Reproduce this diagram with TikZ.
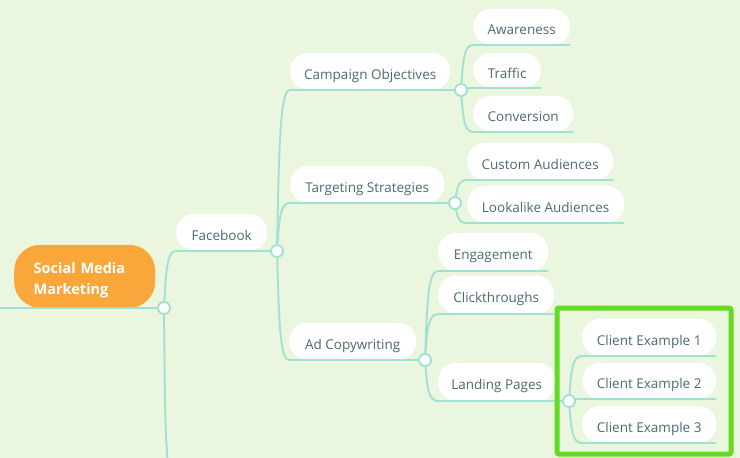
\documentclass[tikz,border=0pt]{standalone}
\usepackage{fontspec}
\setmainfont{Open Sans}
\usetikzlibrary{calc}
\definecolor{bg}{HTML}{EBF6DF}
\definecolor{ln}{HTML}{A3E0D4}
\definecolor{txt}{HTML}{4B6A73}
\definecolor{orng}{HTML}{F9A73B}
\definecolor{hl}{HTML}{62DB22}
\begin{document}
\begin{tikzpicture}[x=1pt,y=-1pt,
  leaf/.style={fill=white, rounded corners=18pt, text=txt, font=\fontsize{13.5}{16}\selectfont, inner sep=0pt, anchor=south west, minimum height=37pt, align=center, text height=15.6pt, text depth=0pt},
  rootbox/.style={fill=orng, rounded corners=26pt, text=white, font=\fontsize{14.5}{21}\selectfont\bfseries, inner xsep=19.5pt, inner ysep=0pt, anchor=south west, text width=102pt, minimum height=63pt, align=left, text height=11pt, text depth=16pt},
  conn/.style={draw=ln, line width=1.9pt},
  branch/.style={to path={let \p1=(\tikztostart), \p2=(\tikztotarget) in .. controls (\x1+2pt,{\y2+0.35*(\y1-\y2)}) and (\x1+3pt,\y2) .. (\tikztotarget) \tikztonodes}},
  hub/.style={circle, fill=white, draw=ln, line width=1.9pt, minimum size=12pt, inner sep=0pt}]
\fill[bg] (0,0) rectangle (740,458);
\useasboundingbox (0,0) rectangle (740,458);
\clip (0,0) rectangle (740,458);

% nodes
\node[rootbox] (root) at (14,308) {Social Media\\Marketing};
\node[leaf, minimum width=91pt] (fb) at (176,251) {Facebook};
\node[leaf, minimum width=160pt] (co) at (290,90) {Campaign Objectives};
\node[leaf, minimum width=97pt, minimum height=36pt] (aw) at (473,45) {Awareness};
\node[leaf, minimum width=68pt, minimum height=35pt] (tr) at (473,88) {Traffic};
\node[leaf, minimum width=100pt, minimum height=36pt] (cv) at (473,132) {Conversion};
\node[leaf, minimum width=154pt] (ts) at (290,203) {Targeting Strategies};
\node[leaf, minimum width=146pt] (ca) at (467,180) {Custom Audiences};
\node[leaf, minimum width=157pt] (la) at (467,223) {Lookalike Audiences};
\node[leaf, minimum width=127pt] (ac) at (289,360) {Ad Copywriting};
\node[leaf, minimum width=110pt, minimum height=38pt] (en) at (438,271) {Engagement};
\node[leaf, minimum width=116pt, minimum height=38pt] (ct) at (438,314) {Clickthroughs};
\node[leaf, minimum width=117pt, minimum height=38pt] (lp) at (438,401) {Landing Pages};
\node[leaf, minimum width=134pt] (c1) at (582,356) {Client Example 1};
\node[leaf, minimum width=134pt, minimum height=36pt] (c2) at (582,399) {Client Example 2};
\node[leaf, minimum width=134pt] (c3) at (582,443) {Client Example 3};

% hubs
\coordinate (hroot) at (164,308);
\coordinate (hfb) at (277,251);
\coordinate (hco) at (461,90);
\coordinate (hts) at (455,203);
\coordinate (hac) at (425,360);
\coordinate (hlp) at (569,401);
\coordinate (left) at (0,308);
\coordinate (off) at (168,470);

% connectors
\draw[conn] (left) -- (hroot);
\draw[conn] (hroot) .. controls (165,420) .. (off);
\draw[conn] (hroot) to[branch] (fb.south west) -- (hfb);
\foreach \c in {co,ts,ac}{
  \draw[conn] (hfb) to[branch] (\c.south west) -- (h\c);
}
\foreach \c in {aw,tr,cv}{
  \draw[conn] (hco) to[branch] (\c.south west) -- (\c.south east);
}
\foreach \c in {ca,la}{
  \draw[conn] (hts) to[branch] (\c.south west) -- (\c.south east);
}
\foreach \c in {en,ct}{
  \draw[conn] (hac) to[branch] (\c.south west) -- (\c.south east);
}
\draw[conn] (hac) to[branch] (lp.south west) -- (hlp);
\foreach \c in {c1,c2,c3}{
  \draw[conn] (hlp) to[branch] (\c.south west) -- (\c.south east);
}

\foreach \h in {hroot,hfb,hco,hts,hac,hlp}{
  \node[hub] at (\h) {};
}

% highlight box
\draw[hl, line width=5pt, rounded corners=2pt] (557,308) rectangle (731,454);
\end{tikzpicture}
\end{document}
